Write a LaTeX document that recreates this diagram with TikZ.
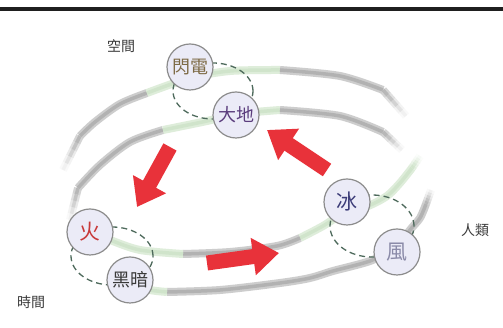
\documentclass[tikz,border=0pt]{standalone}
\usepackage{fontspec}
\newfontfamily\cjk{Noto Sans CJK TC}
\usetikzlibrary{arrows.meta,calc}
\definecolor{ringgray}{HTML}{CDCDCD}
\definecolor{ringgraycore}{HTML}{B2B2B2}
\definecolor{ringgreen}{HTML}{DEEDDA}
\definecolor{ringgreencore}{HTML}{D0E4CB}
\definecolor{dashcol}{HTML}{4E6A5C}
\definecolor{circfill}{HTML}{EBEBF7}
\definecolor{circline}{HTML}{8C8C8C}
\definecolor{arrred}{HTML}{E8323A}
\definecolor{labcol}{HTML}{3A3A3A}
\definecolor{colS}{HTML}{7D6A45}
\definecolor{colD}{HTML}{5B3D7D}
\definecolor{colH}{HTML}{C83A3A}
\definecolor{colK}{HTML}{3A3A3A}
\definecolor{colB}{HTML}{3C3C78}
\definecolor{colF}{HTML}{8A8AA8}
\tikzset{
  gband/.style={draw=ringgray, line width=8pt, line cap=butt},
  gcore/.style={draw=ringgraycore, line width=3.5pt, line cap=butt},
  grband/.style={draw=ringgreen, line width=8pt, line cap=butt},
  grcore/.style={draw=ringgreencore, line width=3.5pt, line cap=butt},
  elem/.style={circle, minimum size=46pt, inner sep=0pt, fill=circfill, draw=circline, line width=1.2pt, font=\cjk\fontsize{18}{18}\selectfont},
  elemone/.style={elem, font=\cjk\fontsize{21}{21}\selectfont},
  pairdash/.style={draw=dashcol, line width=1.3pt, dash pattern=on 6pt off 4pt},
  bigarrow/.style={draw=arrred, line width=15pt, -{Triangle[length=26pt,width=36pt]}},
  lab/.style={font=\cjk\fontsize{14}{14}\selectfont, text=labcol, inner sep=0pt}
}
\newcommand{\gseg}[1]{\draw[gband] plot[smooth] coordinates {#1}; \draw[gcore] plot[smooth] coordinates {#1};}
\newcommand{\grseg}[1]{\draw[grband] plot[smooth] coordinates {#1}; \draw[grcore] plot[smooth] coordinates {#1};}
% fading end: #1 = g or gr, #2 = opaque end, #3 = vanishing end
\newcommand{\fadeend}[3]{%
  \foreach \t/\u/\o in {0/0.2/0.85,0.2/0.4/0.62,0.4/0.6/0.42,0.6/0.8/0.24,0.8/1/0.1}{%
    \draw[#1band, draw opacity=\o] ($#2!\t!#3$) -- ($#2!\u!#3$);
    \draw[#1core, draw opacity=\o] ($#2!\t!#3$) -- ($#2!\u!#3$);
  }}
\begin{document}
\begin{tikzpicture}[x=1pt,y=1pt]
\useasboundingbox (0,0) rectangle (503,328);
\fill[white] (0,0) rectangle (503,328);
% top rule
\draw[draw=black!88, line width=4pt] (0,318.5) -- (503,318.5);

% ---- ring 1 (upper) ----
\fadeend{g}{(80,192)}{(63,158)}
\gseg{(80,192) (95,206) (120,224) (147,235)}
\grseg{(147,235) (190,250) (230,257) (280,258)}
\gseg{(280,258) (340,252) (383,238)}
\fadeend{g}{(383,238)}{(406,212)}
\fadeend{gr}{(412,160)}{(420,172)}
\grseg{(412,160) (400,145) (387,132) (368,122) (347,117) (323,102) (300,90)}
\gseg{(300,90) (277,82) (230,76) (183,74)}
\grseg{(183,74) (140,78) (110,88) (90,96)}

% ---- ring 2 (lower) ----
\fadeend{g}{(78,140)}{(70,108)}
\gseg{(78,140) (100,163) (130,186) (163,198)}
\grseg{(163,198) (207,207) (236,214) (280,218)}
\gseg{(280,218) (340,212) (383,196)}
\fadeend{g}{(383,196)}{(402,178)}
\fadeend{g}{(426,124)}{(431,138)}
\gseg{(426,124) (420,110) (410,98) (397,80)}
\gseg{(397,80) (370,67) (333,57) (310,50) (280,45) (220,38) (167,36)}
\grseg{(167,36) (150,38) (132,44)}

% ---- pair links (dashed) ----
\draw[pairdash] (213,237) ellipse [x radius=40, y radius=28];
\draw[pairdash] (112,72) ellipse [x radius=41, y radius=29];
\draw[pairdash] (372,102) ellipse [x radius=42, y radius=31];

% ---- elements ----
\node[elem, text=colS] (s) at (190,261) {閃電};
\node[elem, text=colD] (d) at (236,213) {大地};
\node[elemone, text=colH] (h) at (90,96) {火};
\node[elem, text=colK] (k) at (130,48) {黑暗};
\node[elemone, text=colB] (b) at (347,126) {冰};
\node[elemone, text=colF] (f) at (397,76) {風};

% ---- labels ----
\node[lab] (space) at (121,282) {空間};
\node[lab] (time) at (31,26) {時間};
\node[lab] (human) at (475,98) {人類};

% ---- red arrows ----
\coordinate (a1s) at (170,181);
\coordinate (a1e) at (137,121);
\coordinate (a2s) at (207,65);
\coordinate (a2e) at (279,75);
\coordinate (a3s) at (327,158);
\coordinate (a3e) at (267,198);
\draw[bigarrow] (a1s) -- (a1e);
\draw[bigarrow] (a2s) -- (a2e);
\draw[bigarrow] (a3s) -- (a3e);
\end{tikzpicture}
\end{document}
